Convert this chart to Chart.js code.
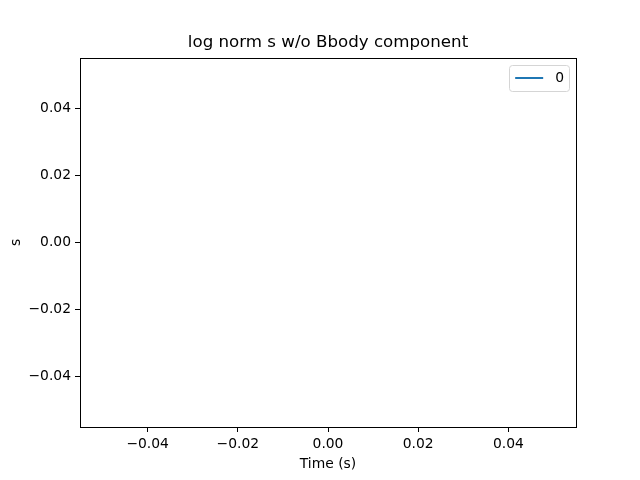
<!DOCTYPE html>
<html>
<head>
<meta charset="utf-8">
<script src="https://cdn.jsdelivr.net/npm/chart.js@4.4.0/dist/chart.umd.min.js"></script>
<style>
  html, body { margin: 0; padding: 0; background: #fff; }
  #wrap { width: 640px; height: 480px; }
</style>
</head>
<body>
<div id="wrap"><canvas id="chart_lognorm"></canvas></div>
<script>
// data (the plot has no points at all)
var chartTitle = 'log norm s w/o Bbody component';
var seriesLabels = ['0'];
var seriesColors = ['#1f77b4'];
var timeValues = [];
var sValues = [];
var xTickValues = [-0.04, -0.02, 0.00, 0.02, 0.04];
var yTickValues = [-0.04, -0.02, 0.00, 0.02, 0.04];
var xLimits = [-0.055, 0.055];
var yLimits = [-0.055, 0.055];

function fmtTick(v) {
    var s = Math.abs(v).toFixed(2);
    return (v < -1e-9 ? '\u2212' : '') + s;
}

// frame, title and legend box drawn matplotlib style
var framePlugin = {
    id: 'frame',
    afterDraw: function (chart) {
        var a = chart.chartArea, ctx = chart.ctx;
        ctx.save();
        ctx.strokeStyle = '#000';
        ctx.lineWidth = 1;
        ctx.strokeRect(Math.round(a.left) + 0.5, Math.round(a.top) + 0.5,
            Math.round(a.right - a.left), Math.round(a.bottom - a.top));

        // title, centred over the plot area
        ctx.fillStyle = '#000';
        ctx.font = '16.67px "DejaVu Sans"';
        ctx.textAlign = 'center';
        ctx.textBaseline = 'middle';
        ctx.fillText(chartTitle, (a.left + a.right) / 2, a.top - 15);

        // legend, upper right
        ctx.font = '13.89px "DejaVu Sans"';
        var labels = chart.data.datasets.map(function (d) { return d.label; });
        var textW = Math.max.apply(null, labels.map(function (l) { return ctx.measureText(l).width; }));
        var w = 6 + 28 + 12 + textW + 5, rowH = 18;
        var h = 8 + rowH * labels.length;
        var x = a.right - 7 - w, y = a.top + 7;
        ctx.strokeStyle = '#d5d5d5';
        ctx.fillStyle = 'rgba(255,255,255,0.8)';
        ctx.beginPath();
        ctx.roundRect(Math.round(x) + 0.5, Math.round(y) + 0.5, Math.round(w), Math.round(h), 3);
        ctx.fill();
        ctx.stroke();
        chart.data.datasets.forEach(function (d, i) {
            var cy = y + 4 + rowH * i + rowH / 2;
            ctx.strokeStyle = d.borderColor;
            ctx.lineWidth = 2;
            ctx.beginPath();
            ctx.moveTo(x + 6, cy);
            ctx.lineTo(x + 6 + 28, cy);
            ctx.stroke();
            ctx.fillStyle = '#000';
            ctx.textAlign = 'left';
            ctx.fillText(d.label, x + 6 + 28 + 12, cy);
        });
        ctx.restore();
    }
};

var ctx = document.getElementById('chart_lognorm').getContext('2d');
var chart = new Chart(ctx, {
    type: 'line',
    data: {
        datasets: seriesLabels.map(function (lab, k) {
            return {
                label: lab,
                data: timeValues.map(function (t, i) { return { x: t, y: sValues[i] }; }),
                borderColor: seriesColors[k],
                backgroundColor: seriesColors[k],
                borderWidth: 2,
                pointRadius: 0
            };
        })
    },
    options: {
        responsive: true,
        maintainAspectRatio: false,
        animation: false,
        layout: { padding: { left: 0, right: 64, top: 58, bottom: 0 } },
        plugins: {
            title: { display: false },
            legend: { display: false },
            tooltip: { enabled: false }
        },
        scales: {
            x: {
                type: 'linear',
                min: xLimits[0],
                max: xLimits[1],
                afterBuildTicks: function (scale) {
                    scale.ticks = xTickValues.map(function (v) { return { value: v }; });
                },
                afterFit: function (scale) { scale.height = 53; },
                grid: { drawOnChartArea: false, drawTicks: true, tickLength: 5, color: '#000', tickColor: '#000' },
                border: { display: true, color: '#000' },
                ticks: {
                    color: '#000',
                    font: { family: 'DejaVu Sans', size: 13.89 },
                    padding: 4,
                    maxRotation: 0,
                    callback: function (v) { return fmtTick(v); }
                },
                title: {
                    display: true,
                    text: 'Time (s)',
                    color: '#000',
                    font: { family: 'DejaVu Sans', size: 13.89 },
                    padding: { top: 0, bottom: 7 }
                }
            },
            y: {
                type: 'linear',
                min: yLimits[0],
                max: yLimits[1],
                afterBuildTicks: function (scale) {
                    scale.ticks = yTickValues.map(function (v) { return { value: v }; });
                },
                afterFit: function (scale) { scale.width = 80; },
                grid: { drawOnChartArea: false, drawTicks: true, tickLength: 5, color: '#000', tickColor: '#000' },
                border: { display: true, color: '#000' },
                ticks: {
                    color: '#000',
                    font: { family: 'DejaVu Sans', size: 13.89 },
                    padding: 4,
                    callback: function (v) { return fmtTick(v); }
                },
                title: {
                    display: true,
                    text: 's',
                    color: '#000',
                    font: { family: 'DejaVu Sans', size: 13.89 },
                    padding: { top: 8, bottom: 0 }
                }
            }
        }
    },
    plugins: [framePlugin]
});
</script>
</body>
</html>
